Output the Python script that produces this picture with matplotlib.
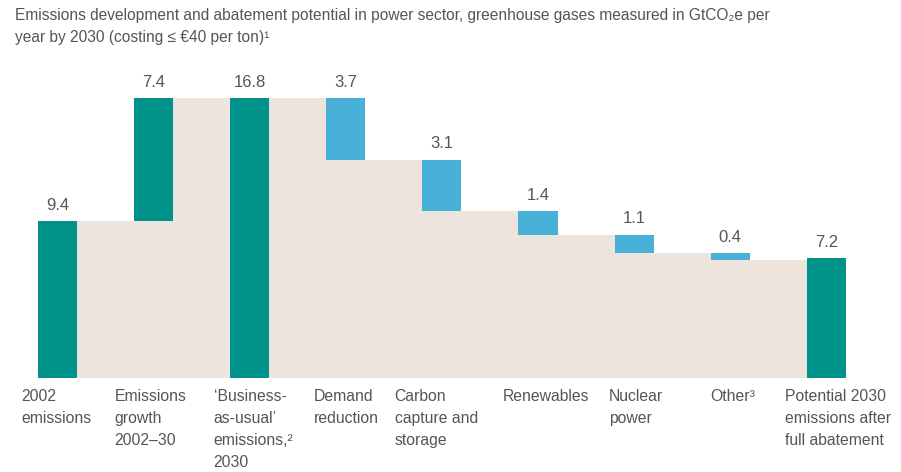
import matplotlib
matplotlib.use("Agg")
import matplotlib.pyplot as plt

# ---- data ----
categories = ["2002\nemissions", "Emissions\ngrowth\n2002\u201330",
              "\u2018Business-\nas-usual\u2019\nemissions,\u00b2\n2030",
              "Demand\nreduction", "Carbon\ncapture and\nstorage",
              "Renewables", "Nuclear\npower", "Other\u00b3",
              "Potential 2030\nemissions after\nfull abatement"]
values = [9.4, 7.4, 16.8, -3.7, -3.1, -1.4, -1.1, -0.4, 7.2]
kinds = ["total", "delta", "total", "delta", "delta", "delta", "delta", "delta", "total"]
value_labels = ["9.4", "7.4", "16.8", "3.7", "3.1", "1.4", "1.1", "0.4", "7.2"]
title = ("Emissions development and abatement potential in power sector, greenhouse gases measured in GtCO\u2082e per\n"
         "year by 2030 (costing \u2264 \u20ac40 per ton)\u00b9")

TEAL = "#00938c"
BLUE = "#48afd7"
BEIGE = "#ede5dd"
TXT = "#555555"
plt.rcParams["font.family"] = ["Liberation Sans", "DejaVu Sans"]

fig = plt.figure(figsize=(9.01, 4.72), dpi=100)
ax = fig.add_axes([0, 94 / 472, 1, 378 / 472])
ax.set_xlim(-0.598, 8.777)
ax.set_ylim(0, 22.68)
ax.axis("off")

w = 0.406
bottoms, tops, levels = [], [], []
cum = 0.0
for v, k in zip(values, kinds):
    if k == "total":
        b, t = 0.0, v
        cum = v
    else:
        b, t = (cum, cum + v) if v >= 0 else (cum + v, cum)
        cum = cum + v
    bottoms.append(b)
    tops.append(t)
    levels.append(cum)

xs = list(range(len(values)))
ax.fill_between(xs, [0] * len(xs), levels, step="post", color=BEIGE, lw=0, zorder=1)

# label offsets from bar's left edge (points) - layout only
label_dx = [-12, -14, -12, -9, -20, -11, -4, 0, -16]
for i, (b, t, k) in enumerate(zip(bottoms, tops, kinds)):
    col = TEAL if (k == "total" or values[i] > 0) else BLUE
    ax.bar(i, t - b, bottom=b, width=w, color=col, zorder=2, linewidth=0)
    ax.annotate(value_labels[i], (i, t), xytext=(0, 6), textcoords="offset points",
                ha="center", va="bottom", fontsize=12, color=TXT)
    ax.annotate(categories[i], (i - w / 2, 0), xytext=(label_dx[i], -8),
                textcoords="offset points", ha="left", va="top",
                fontsize=11.3, color=TXT, linespacing=1.58)

fig.text(15 / 901, 1 - 8 / 472, title, ha="left", va="top", fontsize=11.2, color=TXT,
         linespacing=1.6)

fig.savefig("out.png", dpi=100)
